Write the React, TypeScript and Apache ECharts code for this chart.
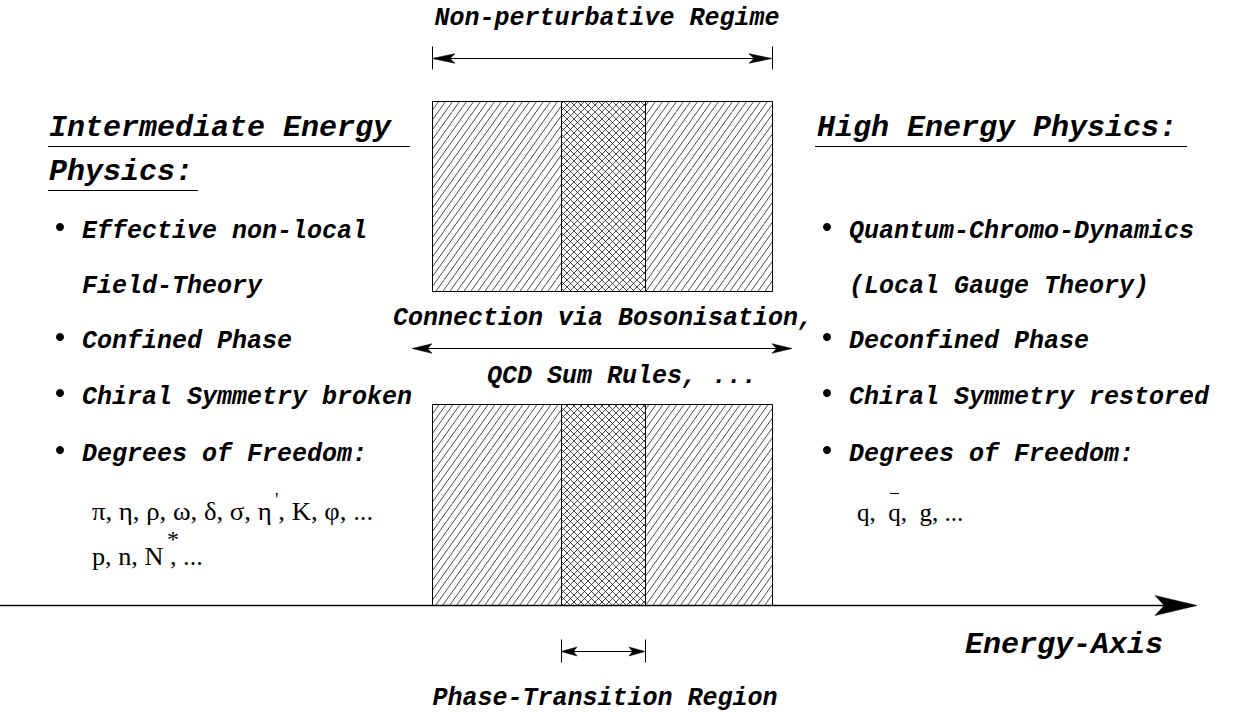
import React, { useEffect, useRef } from "react";
import * as echarts from "echarts";

// ---- Diagram data (energy axis units on x, diagram height units on y) ----
const bandEdges = [432, 561, 645, 772]; // non-perturbative regime split at the phase-transition region
const bandPatterns = [0, 1, 0]; // 0 = diagonal hatch, 1 = cross hatch
const panelRanges = [
  [101, 291],
  [404, 605],
];

const arrowFrom = [
  [432, 58],
  [412, 348],
  [561, 651],
  [0, 605],
];
const arrowTo = [
  [772, 58],
  [792, 348],
  [645, 651],
  [1197, 605],
];
const arrowDouble = [1, 1, 1, 0];
const arrowTicks = [1, 0, 1, 0];

const leftBullets = [
  "Effective non-local",
  "Confined Phase",
  "Chiral Symmetry broken",
  "Degrees of Freedom:",
];
const rightBullets = [
  "Quantum-Chromo-Dynamics",
  "Deconfined Phase",
  "Chiral Symmetry restored",
  "Degrees of Freedom:",
];
const hadrons = "\u03c0, \u03b7, \u03c1, \u03c9, \u03b4, \u03c3, \u03b7 , K, \u03c6, ...";
const baryons = "p, n, N , ...";
const partons = "q,  q,  g, ...";

const MONO = "'Liberation Mono', 'DejaVu Sans Mono', monospace";
const SERIF = "'Liberation Serif', 'DejaVu Serif', serif";
const f25 = `italic bold 25px ${MONO}`;
const f30 = `italic bold 30px ${MONO}`;
const fSerif = `25px ${SERIF}`;

// arrow head style per arrow: [length, half width]
const headStyle = [
  [23, 4.8],
  [20, 4.8],
  [16, 4.5],
  [42, 10],
];

function hatch(x0: number, y0: number, x1: number, y1: number, k: number, d: number, s: number) {
  const out: any[] = [];
  const cs = [x0 + (s * y0) / k, x1 + (s * y0) / k, x0 + (s * y1) / k, x1 + (s * y1) / k];
  const cmin = Math.min(...cs);
  const cmax = Math.max(...cs);
  for (let c = Math.ceil(cmin / d) * d; c <= cmax; c += d) {
    let ya: number, yb: number;
    if (s > 0) {
      ya = k * (c - x1);
      yb = k * (c - x0);
    } else {
      ya = k * (x0 - c);
      yb = k * (x1 - c);
    }
    const lo = Math.max(ya, y0);
    const hi = Math.min(yb, y1);
    if (hi - lo < 0.5) continue;
    const xl = c - (s * lo) / k;
    const xh = c - (s * hi) / k;
    out.push({
      type: "line",
      shape: { x1: xl, y1: lo, x2: xh, y2: hi },
      style: { stroke: "#111", lineWidth: 0.75 },
      silent: true,
    });
  }
  return out;
}

function arrowHead(tx: number, ty: number, ux: number, uy: number, L: number, hw: number) {
  const bx = tx - ux * L;
  const by = ty - uy * L;
  const nx = -uy;
  const ny = ux;
  const notch = L * 0.78;
  return {
    type: "polygon",
    shape: {
      points: [
        [tx, ty],
        [bx + nx * hw, by + ny * hw],
        [tx - ux * notch, ty - uy * notch],
        [bx - nx * hw, by - ny * hw],
      ],
    },
    style: { fill: "#000", stroke: "#000", lineWidth: 0.5 },
  };
}

export default function App() {
  const ref = useRef<HTMLDivElement>(null);
  useEffect(() => {
    document.body.style.margin = "0";
    const chart = echarts.init(ref.current!, undefined, { renderer: "svg" });

    const boxData: number[][] = [];
    panelRanges.forEach(([top, bottom]) => {
      for (let i = 0; i < bandEdges.length - 1; i++) {
        boxData.push([bandEdges[i], bandEdges[i + 1], top, bottom, bandPatterns[i]]);
      }
    });
    const arrowData = arrowFrom.map((p, i) => [p[0], p[1], arrowTo[i][0], arrowTo[i][1], arrowDouble[i], arrowTicks[i], i]);

    const texts: any[] = [];
    const txt = (x: number, y: number, text: string, font: string, align = "left", scaleX = 1) =>
      texts.push({
        type: "text",
        x,
        y,
        scaleX,
        silent: true,
        style: { text, font, fill: "#000", align, verticalAlign: "middle" },
      });
    const hline = (x1: number, x2: number, y: number, w = 1.2) =>
      texts.push({
        type: "line",
        silent: true,
        shape: { x1, y1: y, x2, y2: y },
        style: { stroke: "#000", lineWidth: w },
      });
    const dot = (x: number, y: number) =>
      texts.push({ type: "circle", silent: true, shape: { cx: x, cy: y, r: 4 }, style: { fill: "#000" } });

    txt(607, 18, "Non-perturbative Regime", f25, "center");
    txt(49, 128, "Intermediate Energy", f30);
    hline(48, 410, 146.5);
    txt(49, 172, "Physics:", f30);
    hline(48, 198, 190.5);
    txt(817, 128, "High Energy Physics:", f30);
    hline(815, 1187, 146.5);

    const rowsY = [231, 341, 397, 454];
    leftBullets.forEach((t, i) => {
      dot(60, rowsY[i] - 4);
      txt(82, rowsY[i], t, f25);
    });
    txt(82, 286, "Field-Theory", f25);
    rightBullets.forEach((t, i) => {
      dot(827, rowsY[i] - 4);
      txt(849, rowsY[i], t, f25);
    });
    txt(849, 286, "(Local Gauge Theory)", f25);

    txt(603, 318, "Connection via Bosonisation,", f25, "center");
    txt(487, 376, "QCD Sum Rules, ...", f25, "left");

    txt(92, 512, hadrons, fSerif, "left", 1.07);
    txt(275, 499, "'", `19px ${SERIF}`);
    txt(92, 557, baryons, fSerif, "left", 1.05);
    txt(167, 539, "*", `24px ${SERIF}`);
    txt(857, 512, partons, fSerif);
    hline(890, 899, 493.5, 1.1);

    txt(965, 645, "Energy-Axis", f30);
    txt(605, 698, "Phase-Transition Region", f25, "center");

    chart.setOption({
      animation: false,
      backgroundColor: "#fff",
      grid: { left: 0, right: 0, top: 0, bottom: 0 },
      xAxis: { type: "value", min: 0, max: 1236, show: false },
      yAxis: { type: "value", min: 0, max: 715, inverse: true, show: false },
      series: [
        {
          type: "custom",
          coordinateSystem: "cartesian2d",
          silent: true,
          data: boxData,
          renderItem: (_p: any, api: any) => {
            const a = api.coord([api.value(0), api.value(2)]);
            const b = api.coord([api.value(1), api.value(3)]);
            const x0 = Math.round(Math.min(a[0], b[0])) + 0.5;
            const x1 = Math.round(Math.max(a[0], b[0])) + 0.5;
            const y0 = Math.round(Math.min(a[1], b[1])) + 0.5;
            const y1 = Math.round(Math.max(a[1], b[1])) + 0.5;
            const pat = api.value(4);
            const children: any[] = [];
            if (pat === 0) {
              children.push(...hatch(x0, y0, x1, y1, 1.4, 7, 1));
            } else {
              children.push(...hatch(x0, y0, x1, y1, 1, 7, 1));
              children.push(...hatch(x0, y0, x1, y1, 1, 7, -1));
            }
            children.push({
              type: "rect",
              shape: { x: x0, y: y0, width: x1 - x0, height: y1 - y0 },
              style: { fill: "none", stroke: "#000", lineWidth: 1 },
            });
            return { type: "group", children };
          },
        },
        {
          type: "custom",
          coordinateSystem: "cartesian2d",
          silent: true,
          data: arrowData,
          renderItem: (_p: any, api: any) => {
            const s = api.coord([api.value(0), api.value(1)]);
            const e = api.coord([api.value(2), api.value(3)]);
            const dbl = api.value(4);
            const tick = api.value(5);
            const [L, hw] = headStyle[api.value(6)];
            const dx = e[0] - s[0];
            const dy = e[1] - s[1];
            const len = Math.hypot(dx, dy);
            const ux = dx / len;
            const uy = dy / len;
            const y = Math.round(s[1]) + 0.5;
            const children: any[] = [];
            children.push({
              type: "line",
              shape: { x1: s[0] + (dbl ? ux * L * 0.7 : 0), y1: y, x2: e[0] - ux * L * 0.7, y2: y },
              style: { stroke: "#000", lineWidth: dbl ? 1.1 : 1.6 },
            });
            children.push(arrowHead(e[0], y, ux, uy, L, hw));
            if (dbl) children.push(arrowHead(s[0], y, -ux, -uy, L, hw));
            if (tick) {
              [s[0], e[0]].forEach((x) =>
                children.push({
                  type: "line",
                  shape: { x1: Math.round(x) + 0.5, y1: y - 12, x2: Math.round(x) + 0.5, y2: y + 11 },
                  style: { stroke: "#000", lineWidth: 1 },
                })
              );
            }
            return { type: "group", children };
          },
        },
      ],
      graphic: texts,
    });
    return () => chart.dispose();
  }, []);
  return <div ref={ref} style={{ width: 1236, height: 715 }} />;
}
